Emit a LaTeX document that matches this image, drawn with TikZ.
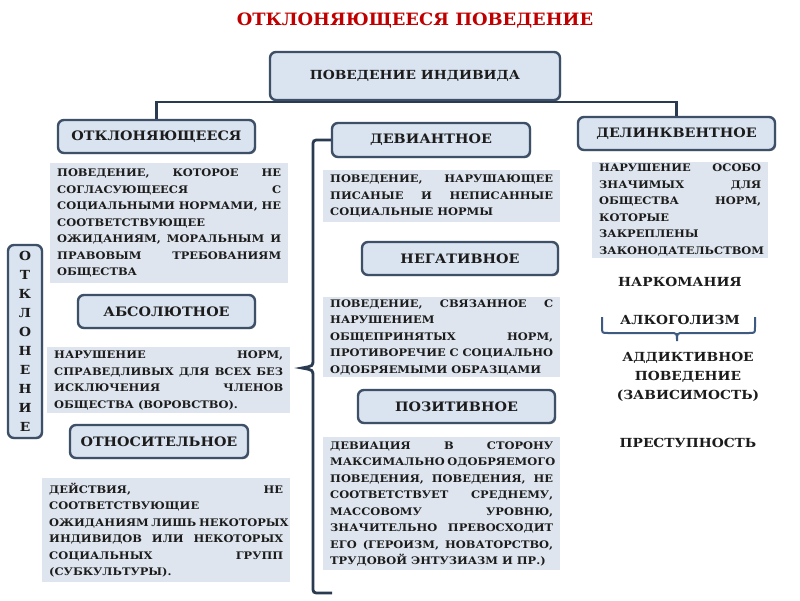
\documentclass[tikz,border=0pt]{standalone}
\usepackage{fontspec}
\setmainfont{DejaVu Serif}
\newfontfamily\bfam{DejaVu Serif}[FakeStretch=1.1]
\newfontfamily\tfam{DejaVu Serif}[FakeStretch=1.05]
\usetikzlibrary{shadows}
\definecolor{boxfill}{HTML}{DAE3F0}
\definecolor{boxline}{HTML}{3E5068}
\definecolor{descfill}{HTML}{DEE5EE}
\definecolor{linecol}{HTML}{2A3A50}
\definecolor{bracecol}{HTML}{3E5A80}
\definecolor{titlered}{HTML}{C00000}
\definecolor{txt}{HTML}{1C1C1C}
\newcommand\J[1]{\makebox[\linewidth][s]{#1}\par}
\newcommand\Ln[1]{#1\par}
\tikzset{
  tbox/.style={draw=boxline, fill=boxfill, line width=2.4pt, rounded corners=6pt,
    drop shadow={shadow xshift=1.2pt, shadow yshift=-1.2pt, opacity=0.25, fill=black},
    font=\bfam\bfseries\fontsize{13}{15}\selectfont, text=txt, inner sep=0pt},
  desc/.style={fill=descfill, inner xsep=7pt, inner ysep=0pt, anchor=north west,
    font=\bfam\bfseries\fontsize{10.4}{16.5}\selectfont, text=txt},
  plain/.style={font=\bfam\bfseries\fontsize{12.5}{19}\selectfont, text=txt, align=center, inner sep=0pt},
  conn/.style={draw=linecol, line width=2.4pt},
  brk/.style={draw=linecol, line width=2.8pt},
  bracestyle/.style={draw=bracecol, line width=2pt}
}
\begin{document}
\begin{tikzpicture}[x=1pt,y=-1pt]
\fill[white] (0,0) rectangle (800,600);
\useasboundingbox (0,0) rectangle (800,600);

\node[font=\tfam\bfseries\fontsize{17}{19}\selectfont, text=titlered] (title) at (415,21) {ОТКЛОНЯЮЩЕЕСЯ ПОВЕДЕНИЕ};

% tree
\node[tbox, minimum width=290pt, minimum height=48pt, font=\bfam\bfseries\fontsize{12.5}{15}\selectfont] (top) at (415,76) {ПОВЕДЕНИЕ ИНДИВИДА};
\node[tbox, minimum width=197pt, minimum height=33pt] (otk) at (156.5,136.5) {ОТКЛОНЯЮЩЕЕСЯ};
\node[tbox, minimum width=197pt, minimum height=33pt] (del) at (676.5,133.5) {ДЕЛИНКВЕНТНОЕ};
\draw[conn] (otk.north) -- (156.5,102) -- (676.5,102) -- (del.north);

\node[tbox, minimum width=177pt, minimum height=33pt] (abs) at (166.5,311.5) {АБСОЛЮТНОЕ};
\node[tbox, minimum width=178pt, minimum height=33pt] (rel) at (159,441.5) {ОТНОСИТЕЛЬНОЕ};
\node[tbox, minimum width=34pt, minimum height=193pt, align=center, font=\bfam\bfseries\fontsize{12.5}{19}\selectfont] (otkl) at (25,341.5) {О\\Т\\К\\Л\\О\\Н\\Е\\Н\\И\\Е};

\node[tbox, minimum width=198pt, minimum height=34pt] (dev) at (431,140) {ДЕВИАНТНОЕ};
\node[tbox, minimum width=196pt, minimum height=33pt] (neg) at (460,258.5) {НЕГАТИВНОЕ};
\node[tbox, minimum width=197pt, minimum height=33pt] (pos) at (456.5,406.5) {ПОЗИТИВНОЕ};

% descriptions
\node[desc, minimum height=120pt] (d1) at (50,163) {\begin{minipage}{224pt}
\J{ПОВЕДЕНИЕ, КОТОРОЕ НЕ}
\J{СОГЛАСУЮЩЕЕСЯ С}
\J{СОЦИАЛЬНЫМИ НОРМАМИ, НЕ}
\Ln{СООТВЕТСТВУЮЩЕЕ}
\J{ОЖИДАНИЯМ, МОРАЛЬНЫМ И}
\J{ПРАВОВЫМ ТРЕБОВАНИЯМ}
\Ln{ОБЩЕСТВА}
\end{minipage}};

\node[desc, minimum height=66pt] (d2) at (47,347) {\begin{minipage}{229pt}
\J{НАРУШЕНИЕ НОРМ,}
\J{СПРАВЕДЛИВЫХ ДЛЯ ВСЕХ БЕЗ}
\J{ИСКЛЮЧЕНИЯ ЧЛЕНОВ}
\Ln{ОБЩЕСТВА (ВОРОВСТВО).}
\end{minipage}};

\node[desc, minimum height=104pt] (d3) at (42,478) {\begin{minipage}{234pt}
\J{ДЕЙСТВИЯ, НЕ}
\Ln{СООТВЕТСТВУЮЩИЕ}
\J{ОЖИДАНИЯМ ЛИШЬ НЕКОТОРЫХ}
\J{ИНДИВИДОВ ИЛИ НЕКОТОРЫХ}
\J{СОЦИАЛЬНЫХ ГРУПП}
\Ln{(СУБКУЛЬТУРЫ).}
\end{minipage}};

\node[desc, minimum height=52pt] (dv) at (323,170) {\begin{minipage}{223pt}
\J{ПОВЕДЕНИЕ, НАРУШАЮЩЕЕ}
\J{ПИСАНЫЕ И НЕПИСАННЫЕ}
\Ln{СОЦИАЛЬНЫЕ НОРМЫ}
\end{minipage}};

\node[desc, minimum height=80pt] (dn) at (323,297) {\begin{minipage}{223pt}
\J{ПОВЕДЕНИЕ, СВЯЗАННОЕ С}
\Ln{НАРУШЕНИЕМ}
\J{ОБЩЕПРИНЯТЫХ НОРМ,}
\J{ПРОТИВОРЕЧИЕ С СОЦИАЛЬНО}
\Ln{ОДОБРЯЕМЫМИ ОБРАЗЦАМИ}
\end{minipage}};

\node[desc, minimum height=133pt] (dp) at (323,437) {\begin{minipage}{223pt}
\J{ДЕВИАЦИЯ В СТОРОНУ}
\J{МАКСИМАЛЬНО ОДОБРЯЕМОГО}
\J{ПОВЕДЕНИЯ, ПОВЕДЕНИЯ, НЕ}
\J{СООТВЕТСТВУЕТ СРЕДНЕМУ,}
\J{МАССОВОМУ УРОВНЮ,}
\J{ЗНАЧИТЕЛЬНО ПРЕВОСХОДИТ}
\J{ЕГО (ГЕРОИЗМ, НОВАТОРСТВО,}
\Ln{ТРУДОВОЙ ЭНТУЗИАЗМ И ПР.)}
\end{minipage}};

\node[desc, minimum height=96pt] (dd) at (592,162) {\begin{minipage}{162pt}
\J{НАРУШЕНИЕ ОСОБО}
\J{ЗНАЧИМЫХ ДЛЯ}
\J{ОБЩЕСТВА НОРМ,}
\Ln{КОТОРЫЕ}
\Ln{ЗАКРЕПЛЕНЫ}
\Ln{ЗАКОНОДАТЕЛЬСТВОМ}
\end{minipage}};

% bracket
\coordinate (bE) at (332,593);
\draw[brk] (dev.west) -- (320,140) .. controls (313,140) .. (313,147) -- (313,360)
  .. controls (313,366) .. (302,368) .. controls (313,370) .. (313,376) -- (313,586)
  .. controls (313,593) .. (320,593) -- (bE);

% right side
\node[plain] (nark) at (680,282) {НАРКОМАНИЯ};
\node[plain] (alk) at (680,320) {АЛКОГОЛИЗМ};
\node[plain] (add) at (688,377) {АДДИКТИВНОЕ\\ПОВЕДЕНИЕ\\(ЗАВИСИМОСТЬ)};
\node[plain] (prest) at (688,443) {ПРЕСТУПНОСТЬ};
\draw[bracestyle] (602,317) -- (602,327) .. controls (602,333) .. (608,333) -- (670,333)
  .. controls (677,333) .. (677,341) .. controls (677,333) .. (684,333) -- (749,333)
  .. controls (755,333) .. (755,327) -- (755,317);
\end{tikzpicture}
\end{document}
